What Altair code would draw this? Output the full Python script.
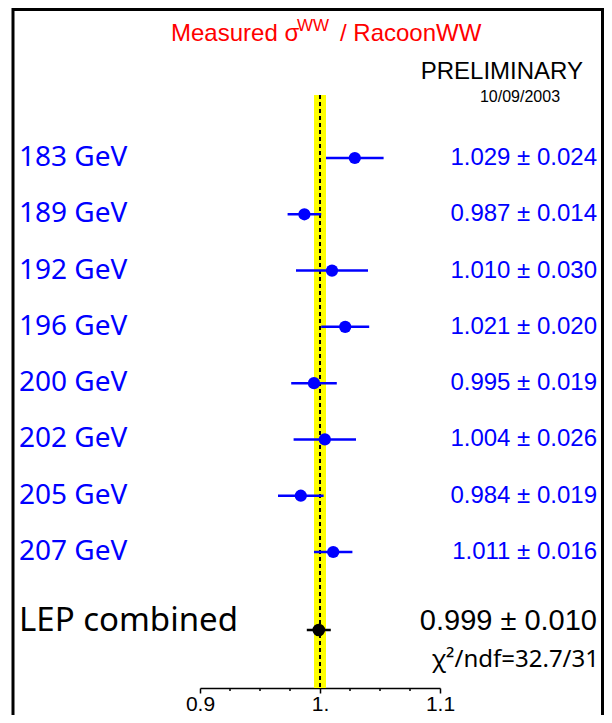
import altair as alt
import pandas as pd

# ---- data ----
energies = ["183 GeV", "189 GeV", "192 GeV", "196 GeV", "200 GeV", "202 GeV", "205 GeV", "207 GeV"]
ratios = [1.029, 0.987, 1.010, 1.021, 0.995, 1.004, 0.984, 1.011]
errors = [0.024, 0.014, 0.030, 0.020, 0.019, 0.026, 0.019, 0.016]
comb_label = "LEP combined"
comb_value = [0.999]
comb_error = [0.010]
chi2_text = "χ²/ndf=32.7/31"
band_limits = [0.995, 1.005]
reference = [1.0]
major_ticks = [0.9, 1.0, 1.1]
minor_ticks = [0.925, 0.95, 0.975, 1.025, 1.05, 1.075]
title_main = "Measured σ"
title_sup = "WW"
title_rest = "/ RacoonWW"
prelim = "PRELIMINARY"
date_text = "10/09/2003"

rows = pd.DataFrame({"energy": energies, "ratio": ratios, "err": errors})
rows["lo"] = rows["ratio"] - rows["err"]
rows["hi"] = rows["ratio"] + rows["err"]
rows["label"] = [f"{r:.3f} ± {e:.3f}" for r, e in zip(ratios, errors)]

comb = pd.DataFrame({"ratio": comb_value, "err": comb_error})
comb["lo"] = comb["ratio"] - comb["err"]
comb["hi"] = comb["ratio"] + comb["err"]
comb["label"] = [f"{r:.3f} ± {e:.3f}" for r, e in zip(comb_value, comb_error)]

band = pd.DataFrame({"lo": [band_limits[0]], "hi": [band_limits[1]]})
ref = pd.DataFrame({"ref": reference})
minors = pd.DataFrame({"t": minor_ticks})

W, H = 596, 680
BLUE = "#0000ff"
xscale = alt.Scale(domain=[0.9, 1.1], range=[192, 432], nice=False, zero=False)
yscale = alt.Scale(type="point", domain=energies, range=[150, 544], padding=0)
xaxis = alt.Axis(
    values=major_ticks,
    labelExpr="datum.value == 1 ? '1.' : format(datum.value, '.1f')",
    title=None, grid=False, tickSize=5, tickWidth=1.5, tickColor="black",
    domainColor="black", domainWidth=1.5, labelFont="Liberation Sans",
    labelFontSize=21, labelColor="black", labelPadding=0, labelFlush=False,
    labelOverlap=False,
)


def txt(t, x, y, size, color="black", font="Liberation Sans", align="left", baseline="middle"):
    return alt.Chart(pd.DataFrame({"t": [t]})).mark_text(
        align=align, baseline=baseline, font=font, fontSize=size, color=color
    ).encode(text="t:N", x=alt.value(x), y=alt.value(y))


band_layer = alt.Chart(band).mark_rect(color="#ffff00").encode(
    x=alt.X("lo:Q", scale=xscale, axis=xaxis), x2="hi:Q",
    y=alt.value(87), y2=alt.value(680))

ref_layer = alt.Chart(ref).mark_rule(color="black", strokeWidth=2, strokeDash=[4, 3]).encode(
    x=alt.X("ref:Q", scale=xscale, axis=xaxis), y=alt.value(87), y2=alt.value(680))

minor_layer = alt.Chart(minors).mark_rule(color="black", strokeWidth=1.5).encode(
    x=alt.X("t:Q", scale=xscale, axis=xaxis), y=alt.value(680), y2=alt.value(683))

err_layer = alt.Chart(rows).mark_rule(color=BLUE, strokeWidth=2.5).encode(
    x=alt.X("lo:Q", scale=xscale, axis=xaxis), x2="hi:Q",
    y=alt.Y("energy:N", scale=yscale, axis=None))

pt_layer = alt.Chart(rows).mark_circle(color=BLUE, size=150, opacity=1).encode(
    x=alt.X("ratio:Q", scale=xscale, axis=xaxis),
    y=alt.Y("energy:N", scale=yscale, axis=None))

left_lab = alt.Chart(rows).mark_text(
    align="left", baseline="middle", font="Noto Sans", fontSize=28, color=BLUE
).encode(x=alt.value(11), y=alt.Y("energy:N", scale=yscale, axis=None), text="energy:N")

right_lab = alt.Chart(rows).mark_text(
    align="right", baseline="middle", font="Liberation Sans", fontSize=24, color=BLUE
).encode(x=alt.value(589), y=alt.Y("energy:N", scale=yscale, axis=None), text="label:N")

comb_err = alt.Chart(comb).mark_rule(color="black", strokeWidth=2.5).encode(
    x=alt.X("lo:Q", scale=xscale, axis=xaxis), x2="hi:Q", y=alt.value(622))
comb_pt = alt.Chart(comb).mark_circle(color="black", size=160, opacity=1).encode(
    x=alt.X("ratio:Q", scale=xscale, axis=xaxis), y=alt.value(622))
comb_val = alt.Chart(comb).mark_text(
    align="right", baseline="middle", font="Liberation Sans", fontSize=29, color="black"
).encode(x=alt.value(589), y=alt.value(613), text="label:N")

frame = pd.DataFrame({"x": [0]})
frame_left = alt.Chart(frame).mark_rule(color="black", strokeWidth=3).encode(
    x=alt.value(5), y=alt.value(0), y2=alt.value(707))
frame_right = alt.Chart(frame).mark_rule(color="black", strokeWidth=3).encode(
    x=alt.value(594.5), y=alt.value(0), y2=alt.value(707))
frame_top = alt.Chart(frame).mark_rule(color="black", strokeWidth=3).encode(
    x=alt.value(5), x2=alt.value(594.5), y=alt.value(1.5))

chart = alt.layer(
    band_layer, ref_layer, minor_layer, err_layer, pt_layer, left_lab, right_lab,
    comb_err, comb_pt, comb_val,
    txt(comb_label, 11, 613, 33, font="Noto Sans"),
    txt(chi2_text, 591, 652, 24, font="Noto Sans", align="right"),
    txt(title_main, 163, 33, 24, color="#ff0000", baseline="alphabetic"),
    txt(title_sup, 289, 23, 17, color="#ff0000", baseline="alphabetic"),
    txt(title_rest, 332, 33, 24, color="#ff0000", baseline="alphabetic"),
    txt(prelim, 575, 64, 24, align="right"),
    txt(date_text, 512, 89, 16, align="center"),
    frame_left, frame_right, frame_top,
).properties(
    width=W, height=H,
    autosize=alt.AutoSizeParams(type="none"),
    padding={"left": 0, "top": 0, "right": 0, "bottom": 27},
    background="white",
).configure_view(strokeWidth=0)

chart.save("out.html", embed_options={"renderer": "svg", "actions": False})
